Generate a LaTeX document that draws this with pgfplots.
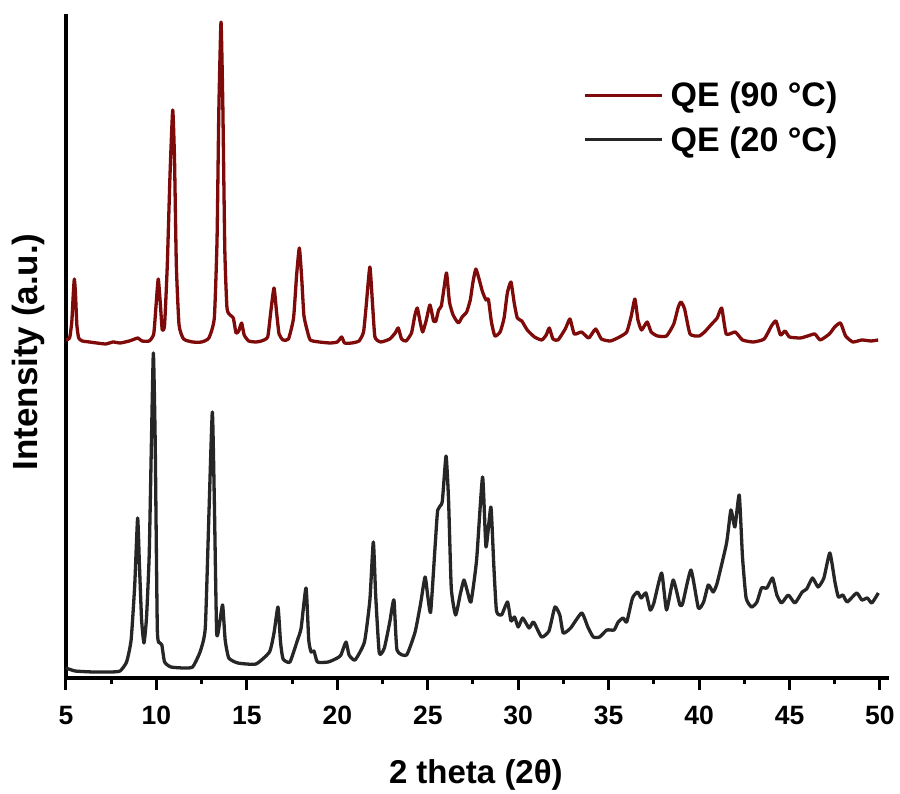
\documentclass[border=0pt]{standalone}
\usepackage{fontspec}
\setmainfont{Liberation Sans}
\usepackage{pgfplots}
\pgfplotsset{compat=1.18}
\definecolor{hotred}{HTML}{7E0A0A}
\definecolor{coldgray}{HTML}{262626}
\begin{document}
\begin{tikzpicture}
\useasboundingbox (0,0) rectangle (900pt,794pt);
\begin{axis}[
  at={(66pt,116pt)}, anchor=south west,
  scale only axis, width=823pt, height=664pt,
  xmin=5, xmax=50.5, ymin=0, ymax=664,
  axis x line=bottom, axis y line=left,
  axis line style={-, line width=3.2pt, black},
  xtick={5,10,...,50}, minor x tick num=1,
  ytick=\empty,
  tick align=outside,
  major tick length=12pt, minor tick length=6pt,
  every tick/.style={black, line width=3pt},
  font=\fontsize{26pt}{30pt}\selectfont\bfseries,
  /pgf/number format/assume math mode=true,
  xticklabel style={inner sep=0pt, font=\fontsize{26.5pt}{30pt}\selectfont\bfseries},
  xticklabel shift=16pt,
  xlabel={2 theta (2θ)},
  ylabel={Intensity (a.u.)},
  every axis x label/.style={at={(axis description cs:0.498,-0.146)}, anchor=center,
    font=\fontsize{33pt}{36pt}\selectfont\bfseries},
  every axis y label/.style={at={(axis description cs:-0.0462,0.491)}, rotate=90, anchor=center,
    font=\fontsize{35pt}{38pt}\selectfont\bfseries},
  legend style={draw=none, fill=none, at={(axis description cs:0.625,0.902)}, anchor=north west,
    font=\fontsize{34pt}{38pt}\selectfont\bfseries, row sep=16pt,
    nodes={inner sep=1pt}},
  legend cell align=left,
  legend image code/.code={\draw[#1, line width=3pt] (0pt,0pt) -- (77pt,0pt); \path (83pt,0pt);},
  clip=false,
  every axis plot/.append style={line width=3.3pt, line join=round, smooth, tension=0.3},
]
% QE heated to 90 C (y values: 678 minus image height)
\addplot[hotred] table[x=x, y expr=678-\thisrow{p}] {
x p
5.00 340
5.20 338
5.32 322
5.40 295
5.46 279
5.52 292
5.60 325
5.70 338
5.90 341
6.30 342
6.70 343
7.20 344
7.60 342
8.00 343
8.50 341
8.80 339
8.98 338
9.20 341
9.60 341
9.85 334
9.98 305
10.10 279
10.22 305
10.32 330
10.45 325
10.60 265
10.75 175
10.90 110
11.00 160
11.10 265
11.25 325
11.50 339
12.00 342
12.50 342
12.90 338
13.20 318
13.35 240
13.45 110
13.57 22
13.67 105
13.78 250
13.90 308
14.07 315
14.25 318
14.40 333
14.55 331
14.71 323
14.85 335
15.10 341
15.50 342
15.80 341
16.15 337
16.32 312
16.50 288
16.64 312
16.78 334
17.00 340
17.30 339
17.58 318
17.75 275
17.90 248
18.03 278
18.15 315
18.30 328
18.50 340
19.00 342
19.60 343
20.00 342
20.24 337
20.40 343
20.80 343
21.20 341
21.45 332
21.60 305
21.80 267
21.95 305
22.08 337
22.40 342
22.90 339
23.20 333
23.37 328
23.55 339
23.80 341
24.10 333
24.28 316
24.42 308
24.58 322
24.72 332
24.92 320
25.12 305
25.32 321
25.45 321
25.60 310
25.75 306
25.90 288
26.04 273
26.20 302
26.40 315
26.69 323
26.90 317
27.15 312
27.35 300
27.50 282
27.66 269
27.85 280
28.03 292
28.22 300
28.35 299
28.52 322
28.71 336
29.00 332
29.22 318
29.40 293
29.60 282
29.78 303
29.95 318
30.20 321
30.50 330
30.90 337
31.30 340
31.55 335
31.72 328
31.92 339
32.20 340
32.60 329
32.86 319
33.10 334
33.50 332
33.90 338
34.28 329
34.60 339
35.10 341
35.60 337
36.00 332
36.25 316
36.45 299
36.62 320
36.82 330
37.13 322
37.35 332
37.70 336
38.20 336
38.60 324
38.85 307
39.00 302
39.20 309
39.50 334
40.00 336
40.30 332
40.70 324
41.00 318
41.25 308
41.50 334
42.00 332
42.40 340
43.00 342
43.60 339
44.00 326
44.25 321
44.50 335
44.75 331
45.00 337
45.60 338
46.00 336
46.40 334
46.70 340
47.20 334
47.50 327
47.82 323
48.10 336
48.50 342
49.00 340
49.50 341
49.90 340
};
\addlegendentry{QE (90 °C)}
% QE at 20 C
\addplot[coldgray] table[x=x, y expr=678-\thisrow{p}] {
x p
5.00 668
5.50 671
6.50 672
7.50 672
7.99 671
8.35 662
8.60 640
8.80 585
8.96 518
9.06 565
9.18 620
9.31 643
9.45 618
9.60 555
9.72 445
9.83 353
9.93 440
10.05 630
10.20 643
10.30 645
10.45 662
10.80 667
11.50 668
12.00 667
12.41 652
12.70 628
12.90 515
13.09 412
13.20 500
13.33 633
13.50 622
13.66 605
13.80 640
14.00 658
14.50 663
15.50 664
16.25 652
16.50 633
16.72 607
16.86 642
17.00 659
17.38 662
17.80 640
18.00 628
18.27 588
18.42 640
18.55 652
18.71 651
18.90 662
19.50 662
20.00 658
20.20 655
20.48 642
20.65 655
20.98 660
21.50 642
21.80 600
21.99 542
22.12 595
22.32 653
22.60 648
22.90 622
23.13 600
23.30 650
23.83 655
24.30 632
24.60 604
24.85 577
25.00 596
25.16 612
25.40 548
25.55 510
25.80 502
26.01 456
26.15 500
26.30 588
26.54 615
26.80 594
27.00 580
27.20 592
27.39 602
27.70 560
28.03 477
28.22 547
28.49 507
28.65 565
28.80 611
29.08 615
29.41 602
29.60 621
29.80 617
30.00 627
30.25 618
30.60 628
30.85 622
31.29 637
31.70 631
32.03 607
32.30 615
32.49 633
32.90 628
33.51 613
33.85 627
34.15 637
34.50 637
34.90 630
35.30 630
35.53 622
35.80 618
36.00 622
36.32 598
36.60 592
36.80 598
37.06 593
37.30 610
37.50 603
37.93 573
38.20 610
38.57 580
38.94 605
39.10 603
39.55 570
39.96 608
40.25 602
40.51 585
40.78 592
41.00 583
41.52 543
41.76 510
41.98 527
42.22 495
42.40 557
42.60 598
42.90 607
43.20 602
43.45 588
43.75 588
44.06 578
44.30 595
44.56 603
44.93 595
45.30 603
45.70 592
45.95 589
46.27 578
46.58 587
46.90 578
47.23 553
47.51 582
47.70 597
47.95 595
48.19 602
48.71 593
49.00 600
49.30 598
49.55 603
49.91 593
};
\addlegendentry{QE (20 °C)}
\end{axis}
\end{tikzpicture}
\end{document}
